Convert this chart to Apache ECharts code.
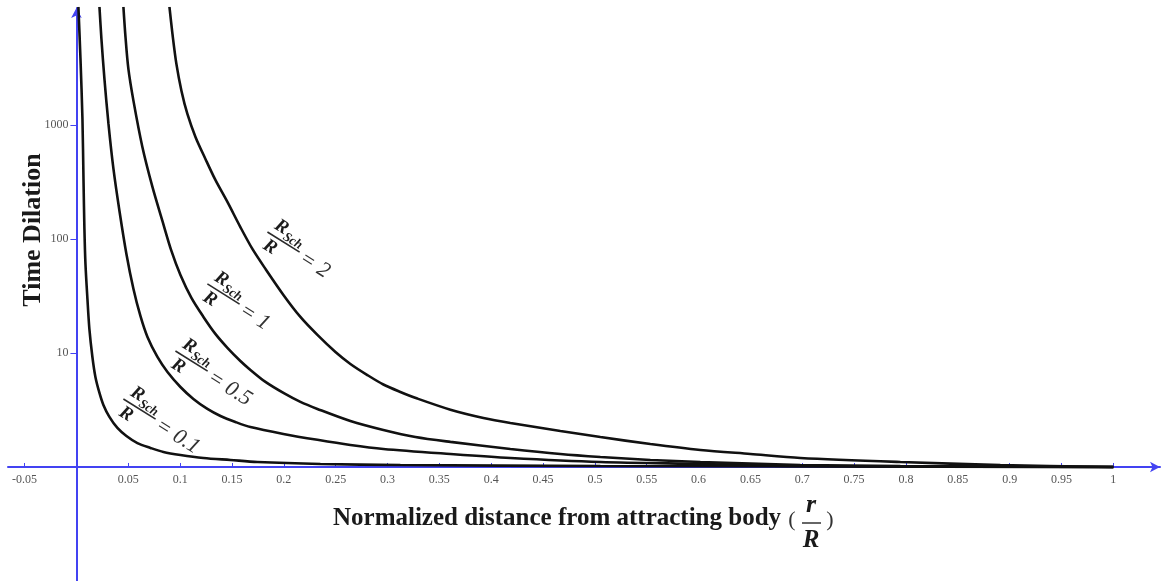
<!DOCTYPE html>
<html><head><meta charset="utf-8">
<script src="https://cdn.jsdelivr.net/npm/echarts@6/dist/echarts.min.js"></script>
<style>html,body{margin:0;padding:0;background:#fff}#c{width:1163px;height:581px}</style>
</head><body><div id="c"></div>
<script>
// ---- data ----
const xTickValues = [-0.05, 0.05, 0.1, 0.15, 0.2, 0.25, 0.3, 0.35, 0.4, 0.45, 0.5, 0.55, 0.6, 0.65, 0.7, 0.75, 0.8, 0.85, 0.9, 0.95, 1];
const yTickValues = [10, 100, 1000];
const ratioLabels = ['0.1', '0.5', '1', '2'];

const curveR01 = [[0.0019,10840],[0.0039,3793],[0.0058,1129],[0.0068,336],[0.0077,122],[0.0087,60.4],[0.0106,29.8],[0.0125,16.2],[0.0154,9.22],[0.0183,6.16],[0.0222,4.46],[0.026,3.5],[0.0318,2.75],[0.0395,2.2],[0.0482,1.87],[0.0588,1.62],[0.0714,1.47],[0.0839,1.354],[0.1003,1.274],[0.1225,1.2],[0.1485,1.152],[0.1745,1.106],[0.2353,1.063],[0.3124,1.041],[0.5053,1.02],[1,1]];
const curveR05 = [[0.0222,10840],[0.0241,5680],[0.027,2533],[0.0309,1021],[0.0357,411],[0.0415,176],[0.0482,73.9],[0.055,36.4],[0.0617,21.1],[0.0685,13.8],[0.0781,9.22],[0.0878,6.81],[0.1003,5.03],[0.1128,3.95],[0.1263,3.23],[0.1389,2.8],[0.1533,2.48],[0.1678,2.24],[0.1996,1.95],[0.2324,1.73],[0.2642,1.56],[0.296,1.44],[0.3607,1.3],[0.4185,1.2],[0.5053,1.106],[0.6017,1.063],[0.6982,1.02],[1,1]];
const curveR1 = [[0.0453,10840],[0.0473,5920],[0.0501,3098],[0.055,1625],[0.0636,641],[0.0733,286],[0.0829,144],[0.0916,78.5],[0.1003,48.3],[0.1109,30.4],[0.1225,20.7],[0.134,14.7],[0.1456,11.1],[0.1581,8.51],[0.1678,7.1],[0.1823,5.57],[0.1996,4.46],[0.216,3.72],[0.2324,3.23],[0.2642,2.53],[0.296,2.11],[0.3269,1.83],[0.3607,1.66],[0.4185,1.44],[0.4667,1.3],[0.5053,1.224],[0.5535,1.152],[0.6017,1.106],[0.6982,1.041],[0.7946,1.02],[1,1]];
const curveR2 = [[0.0897,10840],[0.0926,6280],[0.0964,3428],[0.1013,1987],[0.107,1248],[0.1148,785],[0.1244,503],[0.134,329],[0.1456,211],[0.1581,127],[0.1697,81.7],[0.1823,54.6],[0.1996,32.3],[0.216,20.7],[0.2324,14.4],[0.2498,10.2],[0.2642,8.01],[0.2806,6.4],[0.296,5.29],[0.3124,4.55],[0.3288,3.98],[0.3607,3.18],[0.3925,2.69],[0.4185,2.43],[0.4667,2.07],[0.5053,1.83],[0.5535,1.59],[0.6017,1.41],[0.65,1.3],[0.6982,1.2],[0.7946,1.106],[0.891,1.041],[1,1]];
const curves = [curveR01, curveR05, curveR1, curveR2];

// annotation anchors (data coords of the left end of each fraction bar)
const labelAnchors = [[0.0453,3.95],[0.0955,10.4],[0.1263,40.3],[0.1842,115]];

// ---- chart ----
const AXIS = '#4343f2';
const SERIF = '"Liberation Serif", "Times New Roman", serif';
const chart = echarts.init(document.getElementById('c'), null, {renderer: 'canvas'});
const fmt = v => String(Math.round(v * 1000) / 1000);

chart.setOption({
  animation: false,
  backgroundColor: '#fff',
  grid: {left: 8, right: 3, top: 8, bottom: 0, containLabel: false, outerBoundsMode: 'none'},
  xAxis: {
    type: 'value', min: -0.066, max: 1.045, position: 'bottom', offset: 0,
    axisLine: {show: true, onZero: false, symbol: ['none', 'arrow'], symbolSize: [8, 10], lineStyle: {color: AXIS, width: 2}},
    axisTick: {show: true, inside: true, length: 4, customValues: xTickValues, lineStyle: {color: AXIS, width: 1}},
    axisLabel: {show: true, customValues: xTickValues, formatter: fmt, color: '#555', fontFamily: SERIF, fontSize: 12, margin: 7},
    splitLine: {show: false}
  },
  yAxis: {
    type: 'log', logBase: 10, min: 0.1, max: 10600, position: 'left', offset: 0,
    axisLine: {show: true, onZero: false, symbol: ['none', 'arrow'], symbolSize: [8, 10], lineStyle: {color: AXIS, width: 2}},
    axisTick: {show: true, inside: false, length: 6, customValues: yTickValues, lineStyle: {color: AXIS, width: 1}},
    axisLabel: {show: true, customValues: yTickValues, formatter: fmt, color: '#555', fontFamily: SERIF, fontSize: 12, margin: 8},
    splitLine: {show: false}
  },
  series: curves.map((d, i) => ({
    name: ratioLabels[i], type: 'line', data: d, showSymbol: false, silent: true,
    smooth: 0.3, clip: true,
    lineStyle: {color: '#111', width: 2.6}
  }))
});

const x0 = chart.convertToPixel({xAxisIndex: 0}, 0);
const y1 = chart.convertToPixel({yAxisIndex: 0}, 1);
const rect = chart.getModel().getComponent('grid').coordinateSystem.getRect();

function fractionLabel(anchor, value) {
  const p = chart.convertToPixel({gridIndex: 0}, anchor);
  const txt = (t, x, y, font, va, fill) => ({type: 'text', x: x, y: y, style: {text: t, font: font, fill: fill || '#1c1c1c', align: 'left', verticalAlign: va, textAlign: 'left', textVerticalAlign: va}});
  return {
    type: 'group', x: p[0], y: p[1], rotation: -0.56, silent: true,
    children: [
      {type: 'line', shape: {x1: 0, y1: 0, x2: 38, y2: 0}, style: {stroke: '#2a2a2a', lineWidth: 1.6}},
      txt('R', 3, -2, 'italic bold 19px ' + SERIF, 'bottom'),
      txt('Sch', 16, 1, 'italic bold 13px ' + SERIF, 'bottom'),
      txt('R', 4, 2, 'italic bold 19px ' + SERIF, 'top'),
      txt('= ' + value, 42, 3, 'italic 22px ' + SERIF, 'middle', '#333')
    ]
  };
}

const graphics = labelAnchors.map((a, i) => fractionLabel(a, ratioLabels[i]));
graphics.push(
  {type: 'text', x: 33, y: 230, rotation: Math.PI / 2, silent: true,
   style: {text: 'Time Dilation', font: 'bold 26px ' + SERIF, fill: '#1a1a1a', align: 'center', verticalAlign: 'middle', textAlign: 'center', textVerticalAlign: 'middle'}},
  {type: 'text', x: 333, y: 519, silent: true,
   style: {text: 'Normalized distance from attracting body', font: 'bold 25px ' + SERIF, fill: '#1a1a1a', align: 'left', verticalAlign: 'middle', textAlign: 'left', textVerticalAlign: 'middle'}},
  {type: 'text', x: 792, y: 520, silent: true,
   style: {text: '(', font: '22px ' + SERIF, fill: '#333', align: 'center', verticalAlign: 'middle', textAlign: 'center', textVerticalAlign: 'middle'}},
  {type: 'text', x: 811, y: 505, silent: true,
   style: {text: 'r', font: 'italic bold 26px ' + SERIF, fill: '#1a1a1a', align: 'center', verticalAlign: 'middle', textAlign: 'center', textVerticalAlign: 'middle'}},
  {type: 'line', silent: true, shape: {x1: 802, y1: 523, x2: 821, y2: 523}, style: {stroke: '#333', lineWidth: 1.5}},
  {type: 'text', x: 811, y: 541, silent: true,
   style: {text: 'R', font: 'italic bold 25px ' + SERIF, fill: '#1a1a1a', align: 'center', verticalAlign: 'middle', textAlign: 'center', textVerticalAlign: 'middle'}},
  {type: 'text', x: 830, y: 520, silent: true,
   style: {text: ')', font: '22px ' + SERIF, fill: '#333', align: 'center', verticalAlign: 'middle', textAlign: 'center', textVerticalAlign: 'middle'}}
);

chart.setOption({
  xAxis: {offset: y1 - (rect.y + rect.height)},
  yAxis: {offset: rect.x - x0},
  graphic: graphics
});
</script>
</body></html>
